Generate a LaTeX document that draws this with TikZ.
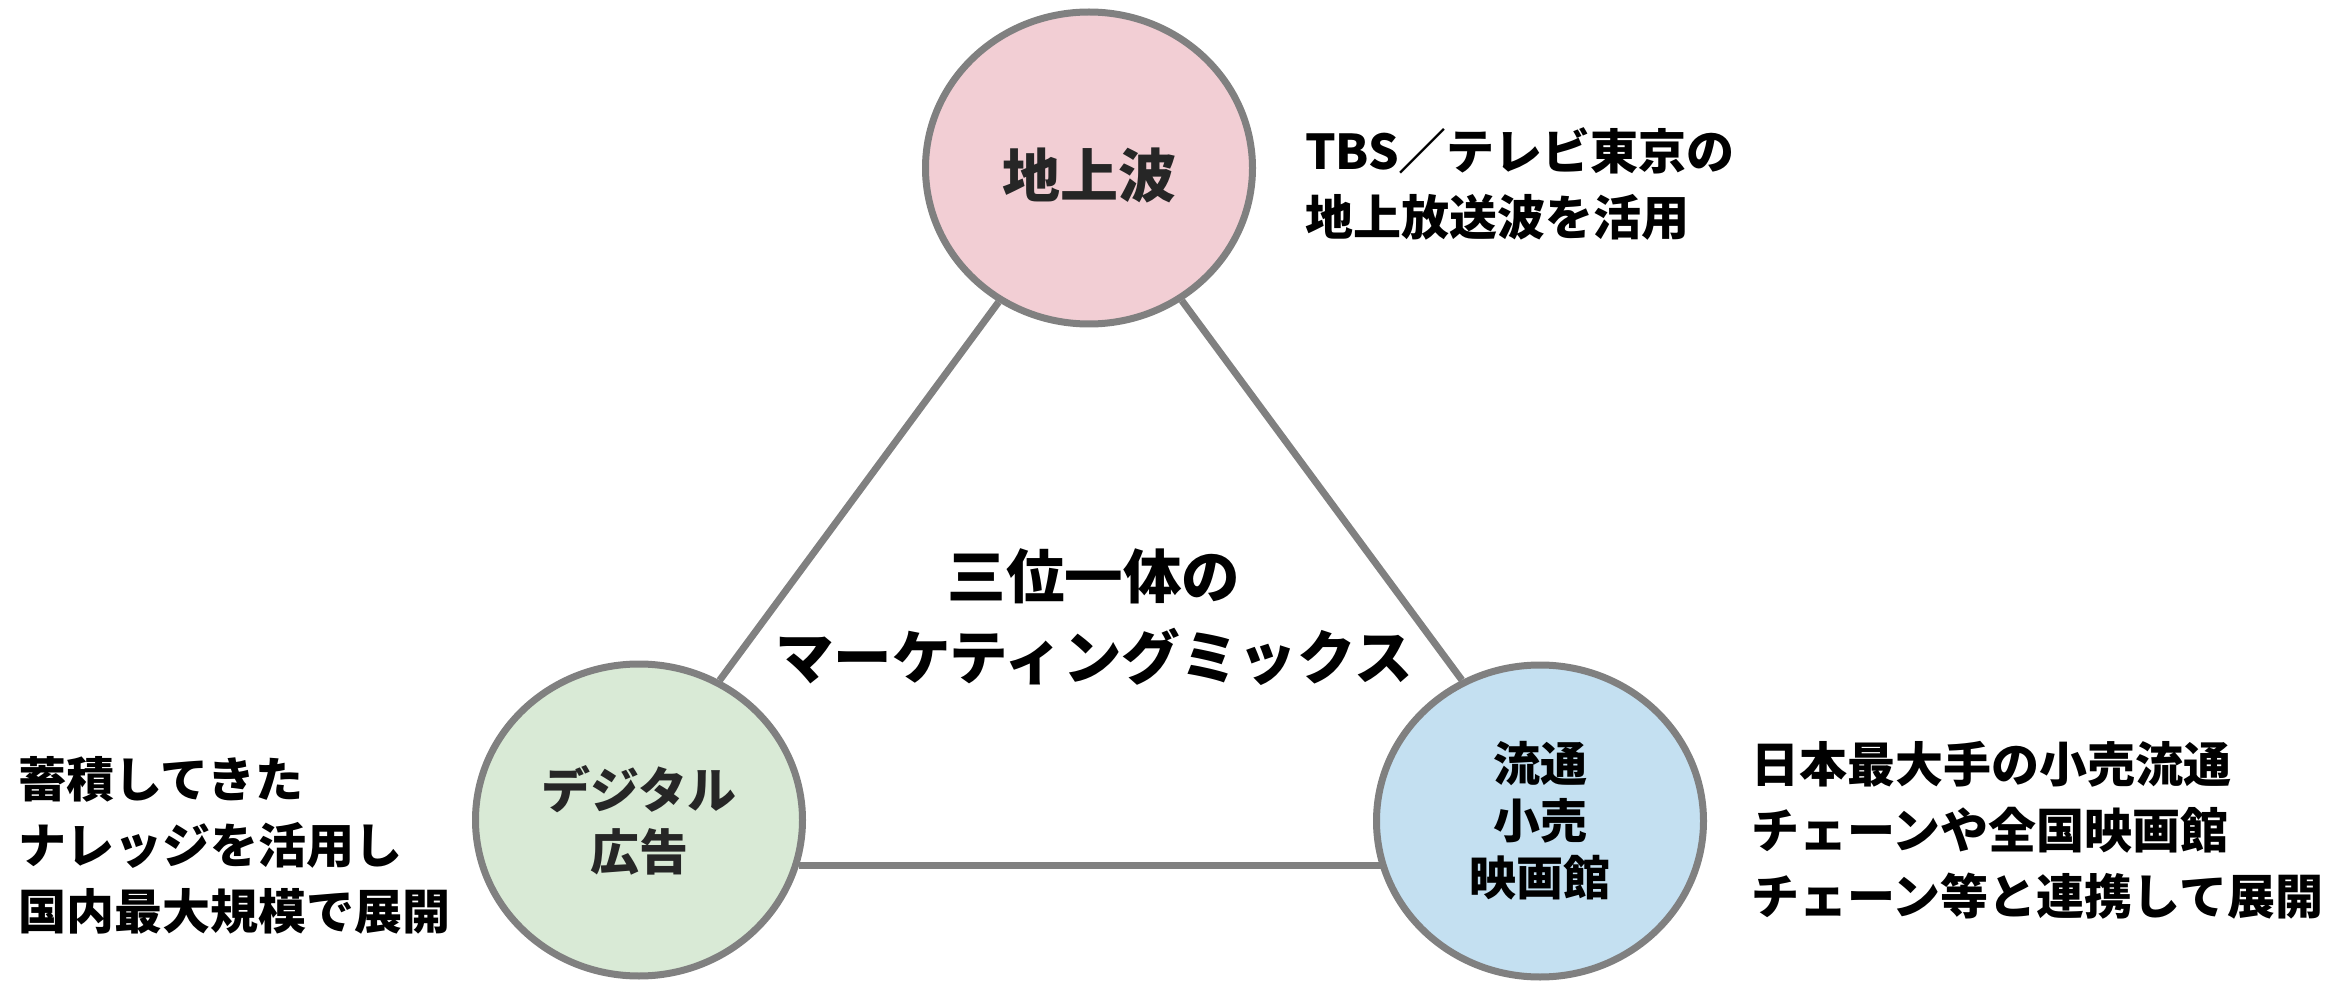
\documentclass[tikz,border=0pt]{standalone}
\usepackage{fontspec}
\setmainfont{Noto Sans CJK JP}
\usetikzlibrary{shapes.geometric,backgrounds,calc}
\definecolor{pinkfill}{HTML}{F2CED4}
\definecolor{greenfill}{HTML}{D9EAD6}
\definecolor{bluefill}{HTML}{C4E0F1}
\definecolor{ringgray}{HTML}{808080}
\definecolor{labeldark}{HTML}{262626}
\begin{document}
\begin{tikzpicture}[x=1pt,y=-1pt,
  ring/.style={ellipse, draw=ringgray, line width=7pt, minimum width=327pt, minimum height=312pt, inner sep=0pt, align=center},
  link/.style={draw=ringgray, line width=7pt},
  note/.style={anchor=west, align=left, inner sep=0pt, font=\bfseries\fontsize{48}{66}\selectfont}]
\useasboundingbox (0,0) rectangle (2346,981);
\node[ring, fill=pinkfill, text=labeldark, font=\bfseries\fontsize{58}{70}\selectfont, text height=62pt, text depth=3pt] (tv) at (1089,168) {地上波};
\node[ring, fill=greenfill, text=labeldark, font=\bfseries\fontsize{49}{62}\selectfont] (dig) at (639,820) {デジタル\\広告};
\node[ring, fill=bluefill, text=black, font=\bfseries\fontsize{47}{57}\selectfont] (ret) at (1540,821) {流通\\小売\\映画館};
\begin{pgfonlayer}{background}
\draw[link] (tv.236) -- (dig.60);
\draw[link] (tv.305) -- (ret.119);
\draw[link] (dig.-16) -- (dig.-16 -| ret.center);
\end{pgfonlayer}
\node[align=center, inner sep=0pt, font=\bfseries\fontsize{58.5}{81}\selectfont] (mix) at (1094,617) {三位一体の\\マーケティングミックス};
\node[note] (tvnote) at (1305,184) {TBS／テレビ東京の\\地上放送波を活用};
\node[note] (dignote) at (18,845) {蓄積してきた\\ナレッジを活用し\\国内最大規模で展開};
\node[note] (retnote) at (1751,830) {日本最大手の小売流通\\チェーンや全国映画館\\チェーン等と連携して展開};
\end{tikzpicture}
\end{document}
